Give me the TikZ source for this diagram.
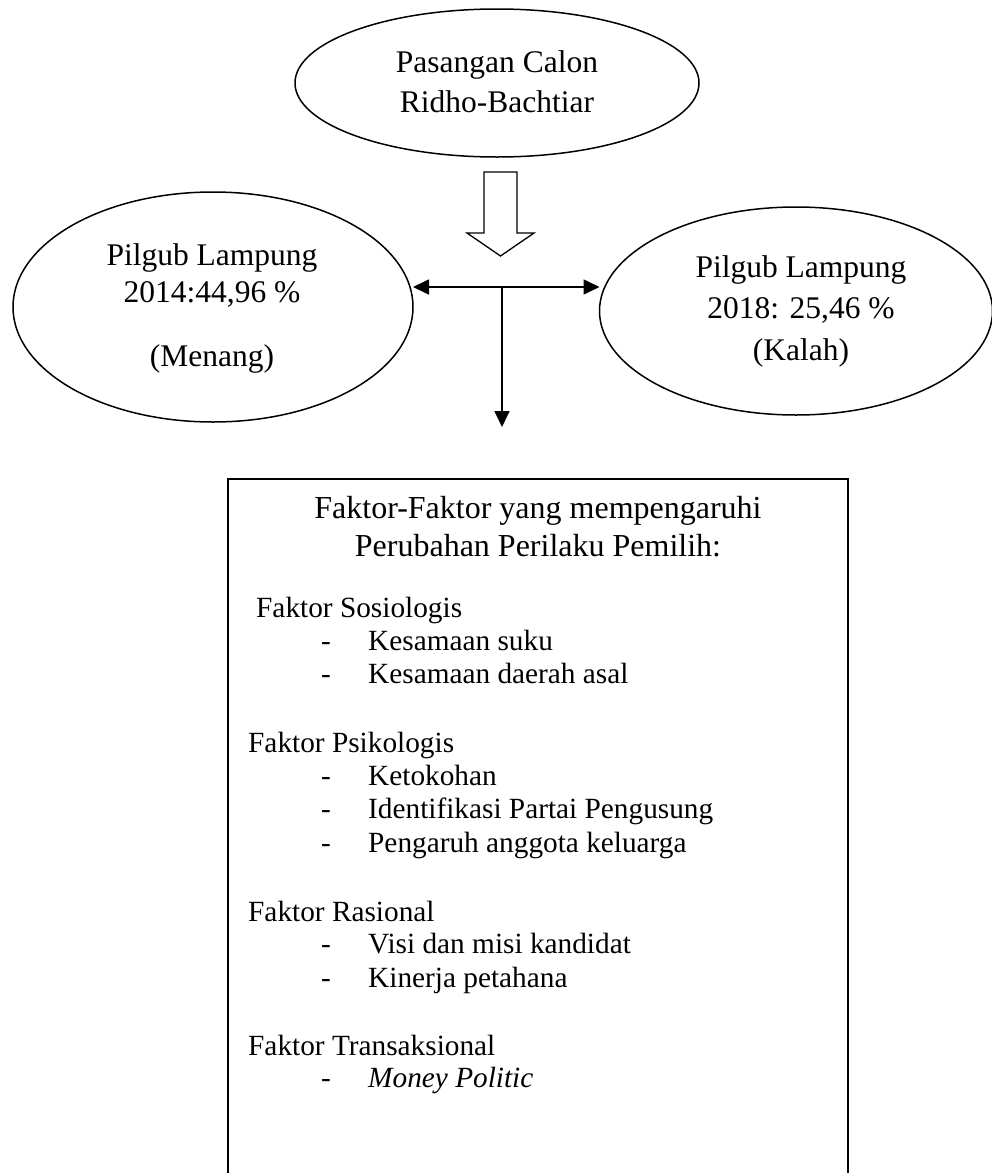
\documentclass[tikz,border=0pt]{standalone}
\usepackage{fontspec}
\setmainfont{Liberation Serif}
\usetikzlibrary{arrows.meta,shapes.geometric}
\begin{document}
\begin{tikzpicture}[x=1pt,y=-1pt,
  oval/.style={draw, ellipse, line width=1.5pt, inner sep=0pt, outer sep=0pt},
  etxt/.style={font=\fontsize{31.5}{36}\selectfont, anchor=base, inner sep=0pt},
  btxt/.style={font=\fontsize{29.3}{34}\selectfont, anchor=base west, inner sep=0pt},
  ttxt/.style={font=\fontsize{32}{36}\selectfont, anchor=base, inner sep=0pt},
  conn/.style={line width=1.7pt, -{Triangle[length=16pt,width=15pt]}},
  hollow/.style={draw, line width=1.3pt, fill=white, line join=miter}]
\useasboundingbox (0,0) rectangle (992,1173);

% ellipses
\node[oval, minimum width=404pt, minimum height=148pt] (top) at (497,83) {};
\node[oval, minimum width=400pt, minimum height=230pt] (L) at (213,307) {};
\node[oval, minimum width=393pt, minimum height=208pt] (R) at (796,311) {};

\node[etxt] (t1) at (497,72) {Pasangan Calon};
\node[etxt] (t2) at (497,112) {Ridho-Bachtiar};

\node[etxt] (l1) at (212,265) {Pilgub Lampung};
\node[etxt] (l2) at (212,302) {2014:44,96 \%};
\node[etxt] (l3) at (212,366) {(Menang)};

\node[etxt] (r1) at (801,277) {Pilgub Lampung};
\node[etxt] (r2) at (801,318) {2018: 25,46 \%};
\node[etxt] (r3) at (801,360) {(Kalah)};

% hollow block arrow
\draw[hollow] (484,172) -- (517,172) -- (517,233) -- (534,233) -- (500.5,256)
  -- (467,233) -- (484,233) -- cycle;

% junction arrows
\coordinate (J) at (502,287);
\coordinate (D) at (502,427);
\draw[conn] (J) -- (J -| L.east);
\draw[conn] (J) -- (J -| R.west);
\draw[conn] (J) -- (D);

% box
\node[draw, line width=1.7pt, anchor=north west, inner sep=0pt, outer sep=0pt,
  minimum width=620pt, minimum height=740pt] (box) at (228,479) {};

\node[ttxt] (b1) at (538,518) {Faktor-Faktor yang mempengaruhi};
\node[ttxt] (b2) at (538,556) {Perubahan Perilaku Pemilih:};

\node[btxt] (s0) at (256,617) {Faktor Sosiologis};
\node[btxt] (s1d) at (321,650) {-};
\node[btxt] (s1) at (368,650) {Kesamaan suku};
\node[btxt] (s2d) at (321,683) {-};
\node[btxt] (s2) at (368,683) {Kesamaan daerah asal};

\node[btxt] (p0) at (248,752) {Faktor Psikologis};
\node[btxt] (p1d) at (321,785) {-};
\node[btxt] (p1) at (368,785) {Ketokohan};
\node[btxt] (p2d) at (321,818) {-};
\node[btxt] (p2) at (368,818) {Identifikasi Partai Pengusung};
\node[btxt] (p3d) at (321,852) {-};
\node[btxt] (p3) at (368,852) {Pengaruh anggota keluarga};

\node[btxt] (q0) at (248,921) {Faktor Rasional};
\node[btxt] (q1d) at (321,953) {-};
\node[btxt] (q1) at (368,953) {Visi dan misi kandidat};
\node[btxt] (q2d) at (321,987) {-};
\node[btxt] (q2) at (368,987) {Kinerja petahana};

\node[btxt] (m0) at (248,1055) {Faktor Transaksional};
\node[btxt] (m1d) at (321,1087) {-};
\node[btxt] (m1) at (368,1087) {\itshape Money Politic};
\end{tikzpicture}
\end{document}
